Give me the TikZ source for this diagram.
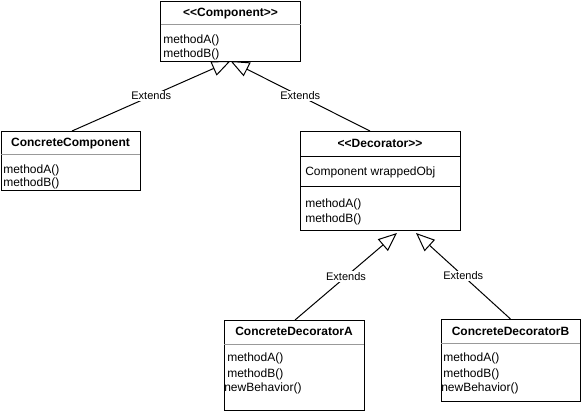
\documentclass[tikz,border=0pt]{standalone}
\usepackage{fontspec}
\setmainfont{Liberation Sans}
\usetikzlibrary{arrows.meta,calc}
\definecolor{divgray}{RGB}{153,153,153}
\begin{document}
\begin{tikzpicture}[x=0.75pt,y=-0.75pt,
  box/.style={draw=black, line width=0.75pt, fill=white, inner sep=0pt, outer sep=0pt},
  ttl/.style={font=\fontsize{9}{11}\selectfont\bfseries, anchor=base, inner sep=0pt},
  mem/.style={font=\fontsize{9}{11}\selectfont, anchor=base west, inner sep=0pt},
  lbl/.style={font=\fontsize{8.25}{10}\selectfont, fill=white, inner sep=1pt},
  ext/.style={line width=0.75pt, -{Triangle[open, length=14pt, width=11.5pt]}},
  div/.style={line width=0.75pt, draw=divgray},
  divk/.style={line width=0.75pt, draw=black}]
\useasboundingbox (0,0) rectangle (581,411);
\fill[white] (0,0) rectangle (581,411);

% boxes
\node[box, minimum width=105pt, minimum height=45pt] (comp) at (230.5,31) {};
\node[box, minimum width=104.25pt, minimum height=44.25pt] (cc) at (70.5,160.5) {};
\node[box, minimum width=120pt, minimum height=74.25pt] (dec) at (380,180.5) {};
\node[box, minimum width=105pt, minimum height=67.5pt] (cda) at (294,365) {};
\node[box, minimum width=104.25pt, minimum height=61.5pt] (cdb) at (510.5,360) {};

% dividers
\draw[div] ($(comp.north west)+(0,23.5)$) -- ($(comp.north east)+(0,23.5)$);
\draw[div] ($(cc.north west)+(0,23)$) -- ($(cc.north east)+(0,23)$);
\draw[divk] ($(dec.north west)+(0,25)$) -- ($(dec.north east)+(0,25)$);
\draw[divk] ($(dec.north west)+(0,55)$) -- ($(dec.north east)+(0,55)$);
\draw[div] ($(cda.north west)+(0,24.3)$) -- ($(cda.north east)+(0,24.3)$);
\draw[div] ($(cdb.north west)+(0,24.3)$) -- ($(cdb.north east)+(0,24.3)$);

% texts
\node[ttl] (compT) at (230.5,16) {<\kern0pt<Component>\kern0pt>};
\node[mem] (compA) at (163,43) {methodA()};
\node[mem] (compB) at (163,57) {methodB()};

\node[ttl] (ccT) at (70.5,146) {ConcreteComponent};
\node[mem] (ccA) at (3,173) {methodA()};
\node[mem] (ccB) at (3,186) {methodB()};

\node[ttl] (decT) at (380,147.5) {<\kern0pt<Decorator>\kern0pt>};
\node[mem] (decW) at (305,175) {Component wrappedObj};
\node[mem] (decA) at (305,207.5) {methodA()};
\node[mem] (decB) at (305,222.5) {methodB()};

\node[ttl] (cdaT) at (294,335.5) {ConcreteDecoratorA};
\node[mem] (cdaA) at (227,361.5) {methodA()};
\node[mem] (cdaB) at (227,377) {methodB()};
\node[mem] (cdaN) at (224,391) {newBehavior()};

\node[ttl] (cdbT) at (510.5,335) {ConcreteDecoratorB};
\node[mem] (cdbA) at (443,361.5) {methodA()};
\node[mem] (cdbB) at (443,377) {methodB()};
\node[mem] (cdbN) at (441,391) {newBehavior()};

% connectors
\draw[ext] ($(cc.north)+(1.5,0)$) -- node[lbl] {Extends} (comp.south);
\draw[ext] ($(dec.north)+(-10,0)$) -- node[lbl] {Extends} (comp.south);
\draw[ext] ($(cda.north)+(1,0)$) -- node[lbl] {Extends} ($(dec.south)+(17,3)$);
\draw[ext] (cdb.north) -- node[lbl] {Extends} ($(dec.south)+(36,3)$);
\end{tikzpicture}
\end{document}
